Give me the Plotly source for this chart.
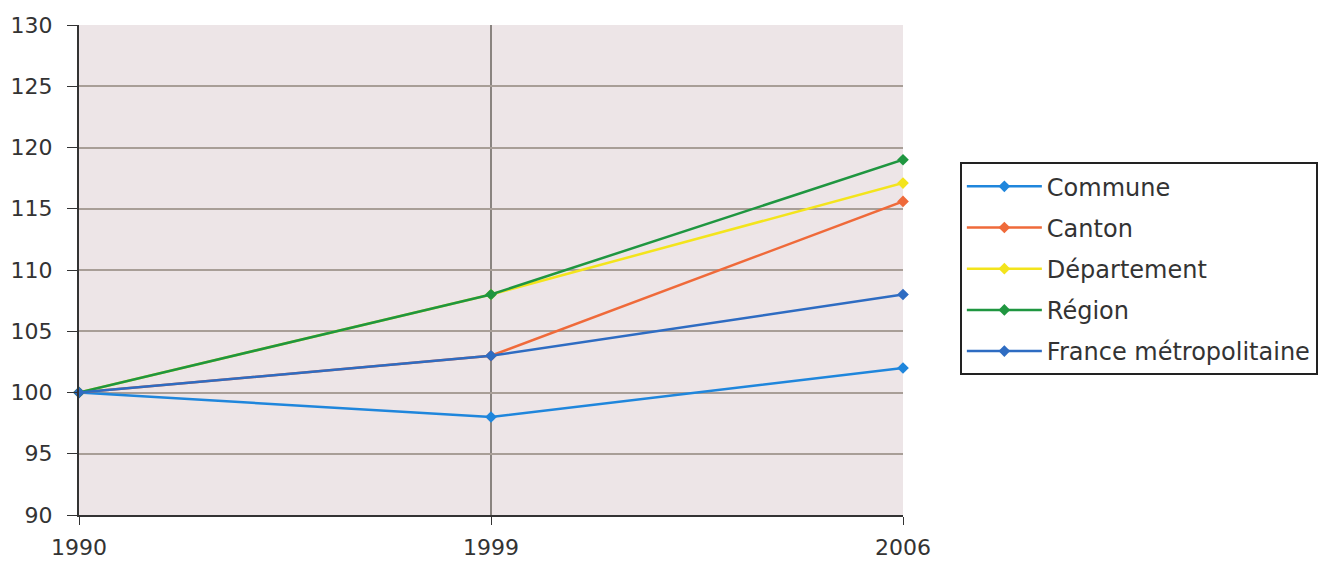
import plotly.graph_objects as go

years = ["1990", "1999", "2006"]
commune = [100, 98, 102]
canton = [100, 103, 115.6]
departement = [100, 108, 117.1]
region = [100, 108, 119]
france = [100, 103, 108]

series = [
    ("Commune", commune, "#1f86dc"),
    ("Canton", canton, "#ef6a3a"),
    ("Département", departement, "#f3e41c"),
    ("Région", region, "#1f9640"),
    ("France métropolitaine", france, "#2e6cc2"),
]

fig = go.Figure()
for i, (name, vals, col) in enumerate(series):
    fig.add_trace(go.Scatter(
        x=years, y=vals, name=name, mode="lines+markers",
        line=dict(color=col, width=2.5),
        marker=dict(symbol="diamond", size=9, color=col),
        legendgroup=f"g{i}", cliponaxis=False,
    ))

font = "DejaVu Sans, sans-serif"
fig.update_layout(
    width=1330, height=561,
    margin=dict(l=71, r=435, t=17, b=54, autoexpand=False),
    paper_bgcolor="white",
    plot_bgcolor="#ede5e7",
    font=dict(family=font, size=22, color="#333333"),
    showlegend=True,
    legend=dict(
        x=1.069, y=0.72, xanchor="left", yanchor="top",
        bordercolor="#222222", borderwidth=2, bgcolor="white",
        font=dict(size=24, color="#333333"),
        tracegroupgap=7, itemwidth=75,
    ),
    xaxis=dict(
        type="category", range=[0, 2], automargin=False,
        showgrid=True, gridcolor="#8a8480", gridwidth=2,
        showline=True, linecolor="#333333", linewidth=2,
        ticks="outside", ticklen=8, tickcolor="#333333",
        zeroline=False, ticklabelstandoff=4,
    ),
    yaxis=dict(
        range=[90, 130], tickvals=[90, 95, 100, 105, 110, 115, 120, 125, 130],
        automargin=False,
        showgrid=True, gridcolor="#a89e97", gridwidth=2,
        showline=True, linecolor="#333333", linewidth=2,
        ticks="outside", ticklen=10, tickcolor="#333333",
        zeroline=False, ticklabelstandoff=10,
    ),
)

fig.write_html("out.html")
